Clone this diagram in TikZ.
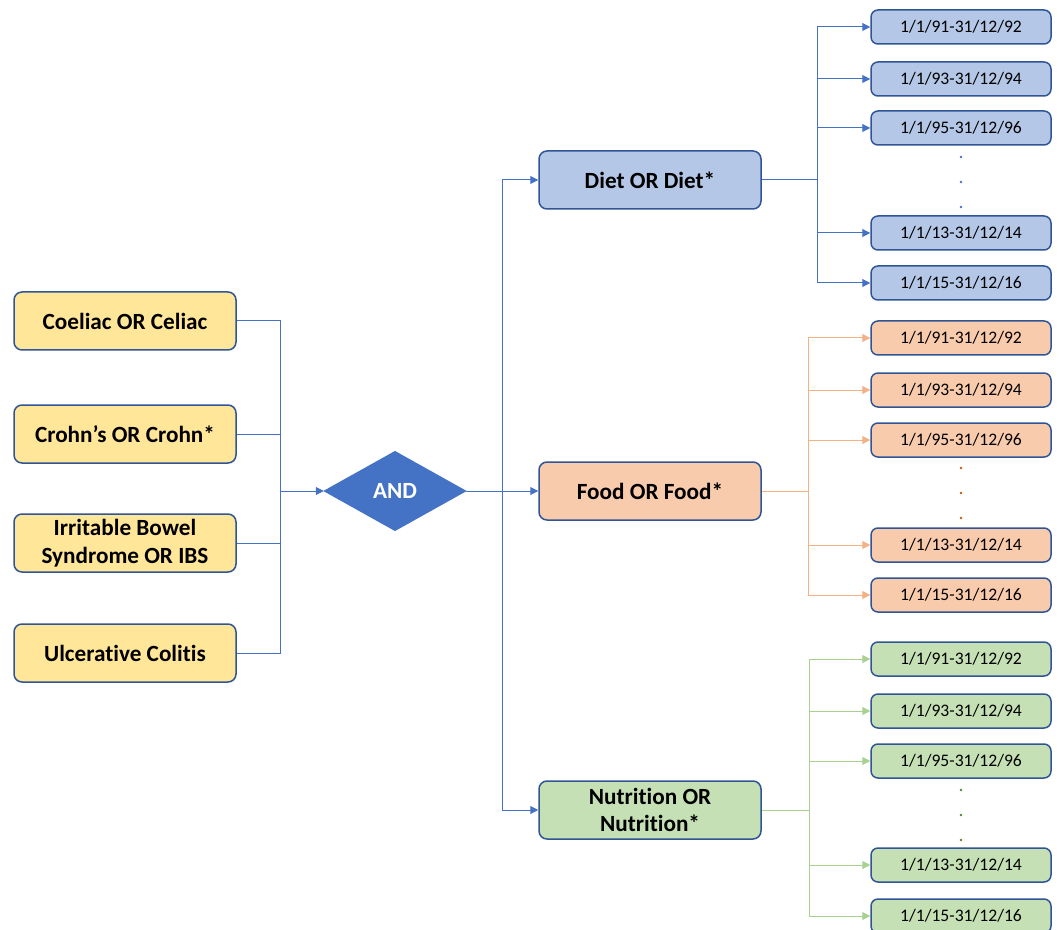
\documentclass[tikz,border=0pt]{standalone}
\usepackage{fontspec}
\setmainfont{Carlito}[Ligatures=NoCommon]
\usepackage{tikz}
\usetikzlibrary{arrows.meta,shapes.geometric}
\definecolor{boxline}{HTML}{2F5597}
\definecolor{yel}{HTML}{FFE699}
\definecolor{blu}{HTML}{B4C7E7}
\definecolor{ora}{HTML}{F8CBAD}
\definecolor{gre}{HTML}{C5E0B4}
\definecolor{linkb}{HTML}{4472C4}
\definecolor{linko}{HTML}{F4B183}
\definecolor{linkg}{HTML}{A9D18E}
\definecolor{doto}{HTML}{C55A11}
\definecolor{dotg}{HTML}{548235}

\begin{document}
\begin{tikzpicture}[x=0.5pt,y=-0.5pt,
  box/.style={draw=boxline,line width=0.75pt,rounded corners=4pt,minimum width=111pt,minimum height=29pt,inner sep=2pt,align=center,font=\fontsize{11.6}{13.9}\selectfont\bfseries},
  datebox/.style={draw=boxline,line width=0.75pt,rounded corners=3.5pt,minimum width=90pt,minimum height=17pt,inner sep=1pt,font=\fontsize{8.8}{10}\selectfont},
  link/.style={line width=0.5pt},
  arr/.style={link,-{Triangle[length=4pt,width=4pt]}}]
\useasboundingbox (0,0) rectangle (1059,930);
%conditions
\node[box,fill=yel] (c1) at (125,321) {Coeliac OR Celiac};
\node[box,fill=yel] (c2) at (125,434) {Crohn’s OR Crohn*};
\node[box,fill=yel] (c3) at (125,543) {Irritable Bowel\\Syndrome OR IBS};
\node[box,fill=yel] (c4) at (125,653) {Ulcerative Colitis};
\node[diamond,draw=linkb,fill=linkb,line width=0.75pt,minimum width=70.5pt,minimum height=39.5pt,inner sep=0pt,text=white,font=\fontsize{11.6}{13.9}\selectfont\bfseries] (and) at (395,491) {AND};
\coordinate (jl) at (280,491);
\draw[link,linkb] (c1.east) -| (jl);
\draw[link,linkb] (c2.east) -| (jl);
\draw[link,linkb] (c3.east) -| (jl);
\draw[link,linkb] (c4.east) -| (jl);
\draw[arr,linkb] (jl) -- (and.west);
%terms
\node[box,fill=blu] (diet) at (650,180) {Diet OR Diet*};
\node[box,fill=ora] (food) at (650,491) {Food OR Food*};
\node[box,fill=gre] (nut) at (650,810) {Nutrition OR\\Nutrition*};
\coordinate (jm) at (502,491);
\draw[link,linkb] (and.east) -- (jm);
\draw[arr,linkb] (jm) |- (diet.west);
\draw[arr,linkb] (jm) -- (food.west);
\draw[arr,linkb] (jm) |- (nut.west);
%diet dates
\node[datebox,fill=blu] (d1) at (961,27) {1/1/91-31/12/92};
\node[datebox,fill=blu] (d2) at (961,79) {1/1/93-31/12/94};
\node[datebox,fill=blu] (d3) at (961,128) {1/1/95-31/12/96};
\node[datebox,fill=blu] (d4) at (961,233) {1/1/13-31/12/14};
\node[datebox,fill=blu] (d5) at (961,283) {1/1/15-31/12/16};
\coordinate (jd) at (817,180);
\draw[link,linkb] (diet.east) -- (jd);
\draw[arr,linkb] (jd) |- (d1.west);
\draw[arr,linkb] (jd) |- (d2.west);
\draw[arr,linkb] (jd) |- (d3.west);
\draw[arr,linkb] (jd) |- (d4.west);
\draw[arr,linkb] (jd) |- (d5.west);
\fill[linkb] (961,157) circle (1.3) (961,182) circle (1.3) (961,207) circle (1.3);
%food dates
\node[datebox,fill=ora] (f1) at (961,338) {1/1/91-31/12/92};
\node[datebox,fill=ora] (f2) at (961,390) {1/1/93-31/12/94};
\node[datebox,fill=ora] (f3) at (961,440) {1/1/95-31/12/96};
\node[datebox,fill=ora] (f4) at (961,545) {1/1/13-31/12/14};
\node[datebox,fill=ora] (f5) at (961,595) {1/1/15-31/12/16};
\coordinate (jf) at (808,491);
\draw[link,linko] (food.east) -- (jf);
\draw[arr,linko] (jf) |- (f1.west);
\draw[arr,linko] (jf) |- (f2.west);
\draw[arr,linko] (jf) |- (f3.west);
\draw[arr,linko] (jf) |- (f4.west);
\draw[arr,linko] (jf) |- (f5.west);
\fill[doto] (961,468) circle (1.3) (961,493) circle (1.3) (961,518) circle (1.3);
%nutrition dates
\node[datebox,fill=gre] (n1) at (961,659) {1/1/91-31/12/92};
\node[datebox,fill=gre] (n2) at (961,711) {1/1/93-31/12/94};
\node[datebox,fill=gre] (n3) at (961,761) {1/1/95-31/12/96};
\node[datebox,fill=gre] (n4) at (961,865) {1/1/13-31/12/14};
\node[datebox,fill=gre] (n5) at (961,916) {1/1/15-31/12/16};
\coordinate (jn) at (809,810);
\draw[link,linkg] (nut.east) -- (jn);
\draw[arr,linkg] (jn) |- (n1.west);
\draw[arr,linkg] (jn) |- (n2.west);
\draw[arr,linkg] (jn) |- (n3.west);
\draw[arr,linkg] (jn) |- (n4.west);
\draw[arr,linkg] (jn) |- (n5.west);
\fill[dotg] (961,790) circle (1.3) (961,815) circle (1.3) (961,840) circle (1.3);
\end{tikzpicture}
\end{document}
